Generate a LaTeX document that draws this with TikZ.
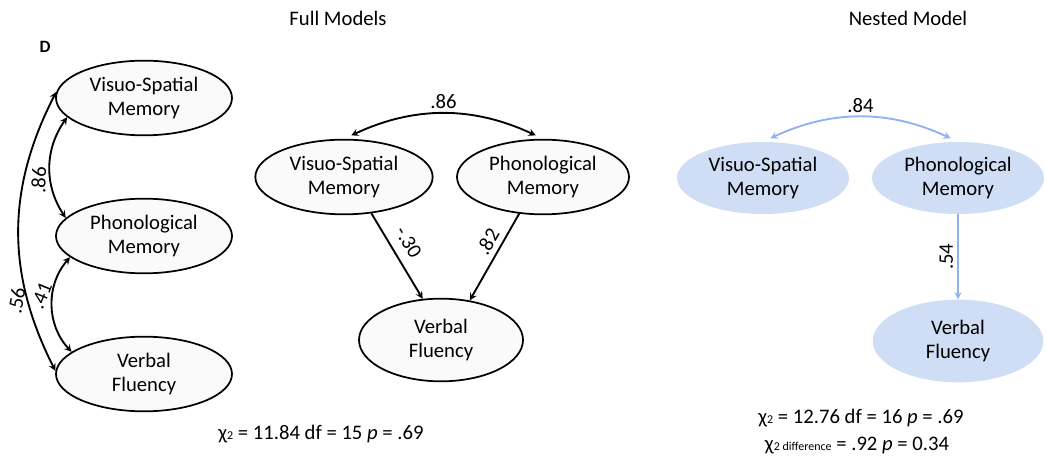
\documentclass[tikz,border=0pt]{standalone}
\usepackage{fontspec}
\setmainfont{Carlito}
\usepackage{xcolor}
\usetikzlibrary{shapes.geometric}

\definecolor{nestfill}{RGB}{207,221,245}
\definecolor{nestline}{RGB}{145,178,240}

\begin{document}
\begin{tikzpicture}[>=stealth, x=0.75pt, y=-0.75pt,
    font=\fontsize{15.5}{17.5}\selectfont,
    latent/.style={ellipse, draw, line width=1.3pt, fill=black!2,
      minimum width=132pt, minimum height=56pt, inner sep=0pt, align=center},
    nested/.style={ellipse, fill=nestfill,
      minimum width=129pt, minimum height=54pt, inner sep=0pt, align=center},
    corr/.style={<->, line width=1.4pt},
    reg/.style={->, line width=1.4pt},
    wt/.style={inner sep=3pt, anchor=south}]

    \useasboundingbox (0,0) rectangle (1046,466);

    % Panel D: correlations only
    \node[font=\bfseries\fontsize{13}{15}\selectfont] (panel) at (45,47) {D};
    \node[latent] (vsA) at (144,98)  {Visuo-Spatial\\Memory};
    \node[latent] (pmA) at (144,236) {Phonological\\Memory};
    \node[latent] (vfA) at (144,374) {Verbal\\Fluency};

    \draw[corr] (pmA.167) to[bend left=34]
      node[wt, pos=0.37, rotate=88] {.86} (vsA.194);
    \draw[corr] (vfA.163) to[bend left=42]
      node[wt, pos=0.55, rotate=68] {.41} (pmA.196);
    \draw[corr] (vfA.178) to[bend left=27]
      node[wt, pos=0.24, rotate=80] {.56} (vsA.176);

    % Full models
    \node (fullttl) at (338,18) {Full Models};
    \node[latent, minimum width=133pt] (vsB) at (344,177) {Visuo-Spatial\\Memory};
    \node[latent, minimum width=129pt] (pmB) at (543,177) {Phonological\\Memory};
    \node[latent, minimum width=123pt, minimum height=62pt] (vfB) at (441,340) {Verbal\\Fluency};

    \draw[corr, shorten <=6pt, shorten >=6pt] (vsB.north) to[bend left=25]
      node[above] {.86} (pmB.north);
    \draw[reg] (vsB.-53) --
      node[wt, inner sep=7pt, pos=0.44, rotate=-59] {-.30} (vfB.114);
    \draw[reg] (pmB.237) --
      node[wt, inner sep=4pt, pos=0.4, rotate=60] {.82} (vfB.54);

    \node (fitB) at (321,434) {χ{\fontsize{9}{10}\selectfont 2} = 11.84 df = 15 \textit{p} = .69};

    % Nested model
    \node (nestttl) at (908,18) {Nested Model};
    \node[nested] (vsC) at (763,178) {Visuo-Spatial\\Memory};
    \node[nested] (pmC) at (958,178) {Phonological\\Memory};
    \node[nested, minimum width=128pt, minimum height=62pt] (vfC) at (958,341) {Verbal\\Fluency};

    \draw[corr, nestline, shorten <=6pt, shorten >=6pt] (vsC.north) to[bend left=25]
      node[above, black] {.84} (pmC.north);
    \draw[reg, nestline] (pmC) --
      node[wt, pos=0.5, rotate=90, black] {.54} (vfC);

    \node (fitC) at (861,418) {χ{\fontsize{9}{10}\selectfont 2} = 12.76 df = 16 \textit{p} = .69};
    \node (diffC) at (857,446) {χ{\fontsize{9}{10}\selectfont 2 difference} = .92 \textit{p} = 0.34};

\end{tikzpicture}
\end{document}
